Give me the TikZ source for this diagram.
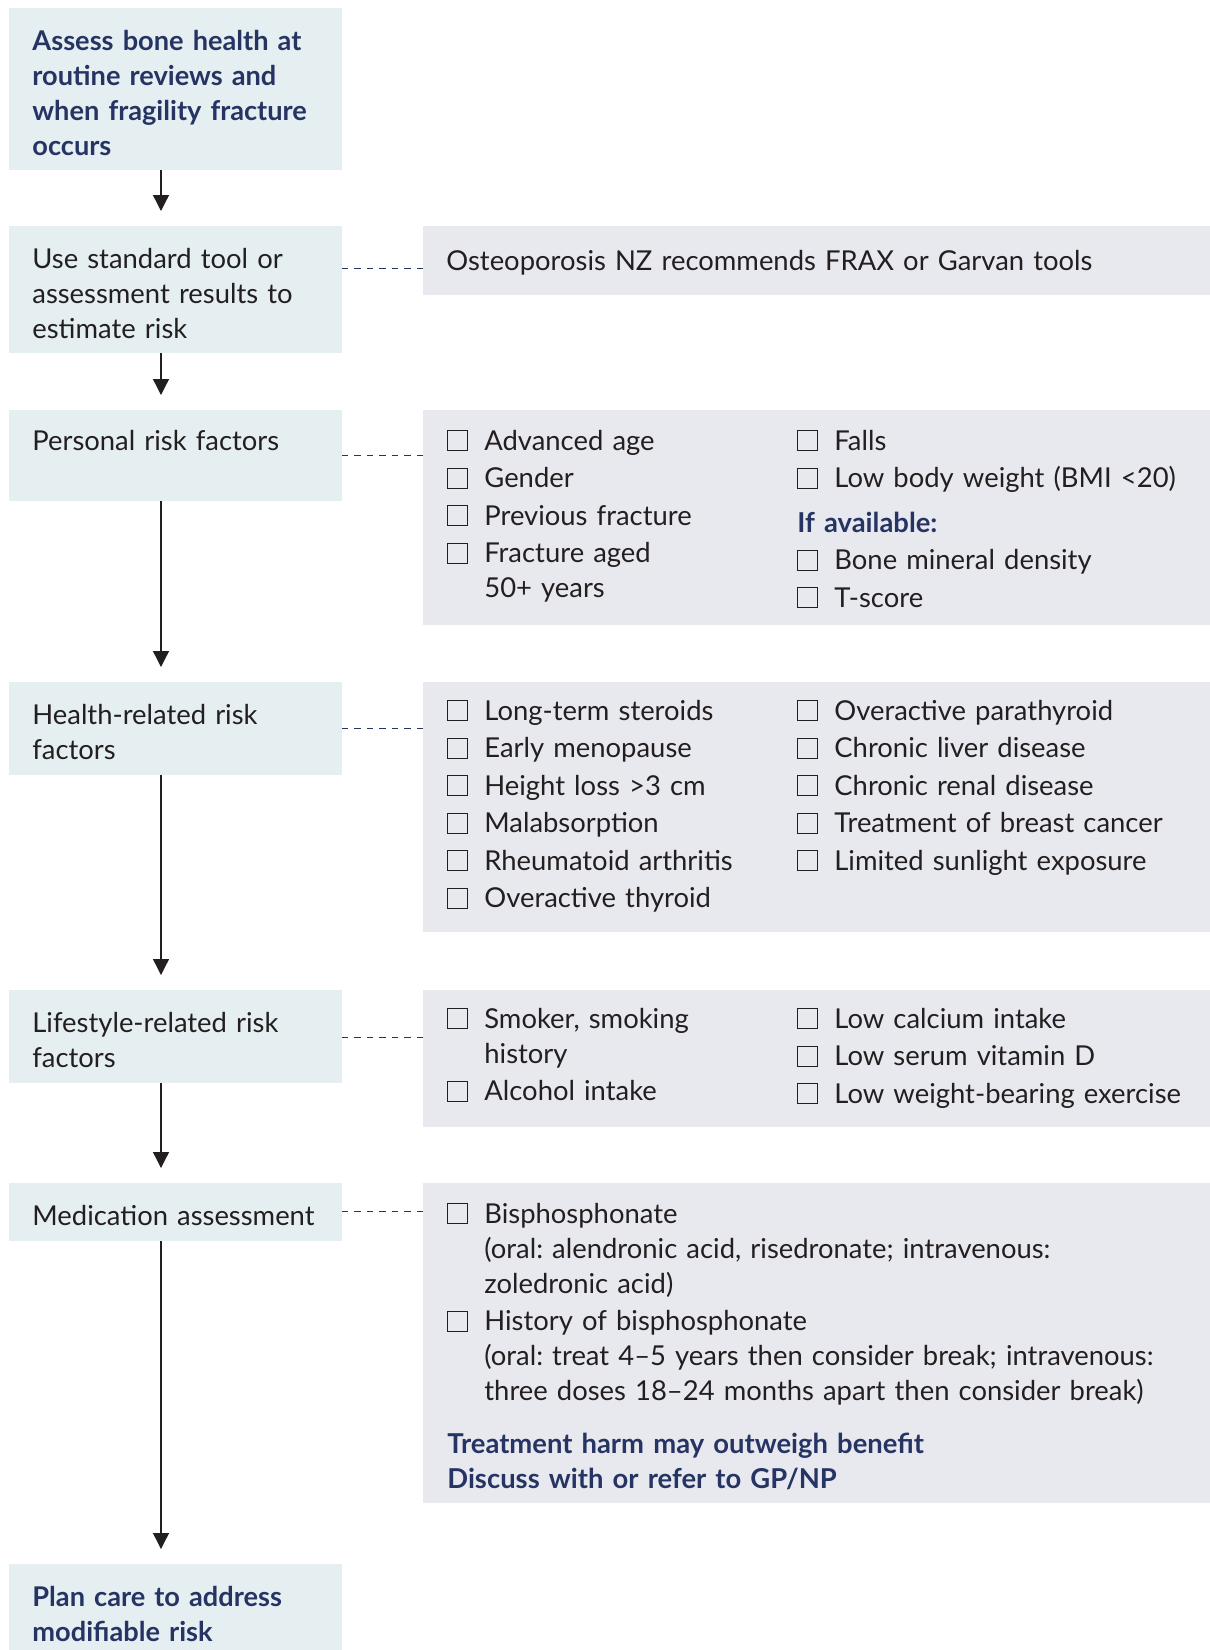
\documentclass[tikz,border=0pt]{standalone}
\usepackage{fontspec}
\setmainfont{Lato}
\usetikzlibrary{arrows.meta,calc}
\definecolor{navy}{RGB}{38,52,100}
\definecolor{inkblack}{RGB}{35,31,32}
\definecolor{stepfill}{RGB}{229,239,242}
\definecolor{notefill}{RGB}{232,233,239}
\frenchspacing
\newcommand\tickbox{{\setlength\fboxsep{0pt}\setlength\fboxrule{0.5pt}\fbox{\rule{0pt}{9.5pt}\hspace{9.5pt}}}}
\newcommand\nextline{\hfil\break}
\newcommand\riskitem[1]{\hangindent=18.5pt\hangafter=1\noindent\tickbox\hspace{8pt}#1\par}
\tikzset{
  flowbox/.style={anchor=north west,fill=stepfill,minimum width=166.5pt,inner sep=0pt,outer sep=0pt},
  notebox/.style={anchor=north west,fill=notefill,minimum width=393.5pt,inner sep=0pt,outer sep=0pt},
  steptext/.style={anchor=base west,inner sep=0pt,text width=152pt,align=left,text=inkblack,font=\fontsize{13.7}{17.5}\selectfont},
  keytext/.style={steptext,text=navy,font=\fontsize{13.6}{17.5}\selectfont\bfseries},
  listtext/.style={anchor=base west,inner sep=0pt,text width=#1,align=left,text=inkblack,
    font=\fontsize{13.7}{17.5}\selectfont,execute at begin node={\setlength\parskip{1.25pt}}},
  listtext/.default=170pt,
  flowarrow/.style={draw=inkblack,line width=0.65pt,-{Triangle[width=8pt,length=8pt]},shorten >=7.5pt},
  linkline/.style={draw=navy,line width=0.5pt,dash pattern=on 3.2pt off 3.01pt},
}
\begin{document}
\begin{tikzpicture}[x=0.5pt,y=-0.5pt]
\useasboundingbox (0,0) rectangle (1210,1650);

% steps on the left
\node[flowbox,minimum height=81pt] (assess) at (9,8) {};
\node[flowbox,minimum height=63.5pt] (tool) at (9,226) {};
\node[flowbox,minimum height=45.5pt] (personal) at (9,410) {};
\node[flowbox,minimum height=46.5pt] (health) at (9,682) {};
\node[flowbox,minimum height=46.5pt] (lifestyle) at (9,990) {};
\node[flowbox,minimum height=29pt] (medication) at (9,1183) {};
\node[flowbox,minimum height=43pt] (plan) at (9,1564) {};

\node[keytext] (assesstext) at (32,50) {Assess bone health at\\routine reviews and\\when fragility fracture\\occurs};
\node[steptext] (tooltext) at (32,268) {Use standard tool or\\assessment results to\\estimate risk};
\node[steptext] (personaltext) at (32,450) {Personal risk factors};
\node[steptext] (healthtext) at (32,724) {Health-related risk\\factors};
\node[steptext] (lifestyletext) at (32,1032) {Lifestyle-related risk\\factors};
\node[steptext,text width=165pt] (medicationtext) at (32,1225) {Medication assessment};
\node[keytext] (plantext) at (32,1606) {Plan care to address\\modifiable risk};

% notes on the right
\node[notebox,minimum height=34.5pt] (frax) at (423,226) {};
\node[notebox,minimum height=107.5pt] (personallist) at (423,410) {};
\node[notebox,minimum height=125pt] (healthlist) at (423,682) {};
\node[notebox,minimum height=68.5pt] (lifestylelist) at (423,990) {};
\node[notebox,minimum height=160pt] (medicationlist) at (423,1183) {};

\node[steptext,text width=340pt] (fraxtext) at (446,270) {Osteoporosis NZ recommends FRAX or Garvan tools};

\node[listtext] (personalA) at (447,450) {%
  \riskitem{Advanced age}
  \riskitem{Gender}
  \riskitem{Previous fracture}
  \riskitem{Fracture aged\nextline 50+ years}};
\node[listtext=200pt] (personalB) at (797,450) {%
  \riskitem{Falls}
  \riskitem{Low body weight (BMI <20)}
  \vspace{3.5pt}\noindent{\color{navy}\bfseries If available:}\par
  \riskitem{Bone mineral density}
  \riskitem{T-score}};

\node[listtext] (healthA) at (447,720) {%
  \riskitem{Long-term steroids}
  \riskitem{Early menopause}
  \riskitem{Height loss >3 cm}
  \riskitem{Malabsorption}
  \riskitem{Rheumatoid arthritis}
  \riskitem{Overactive thyroid}};
\node[listtext=200pt] (healthB) at (797,720) {%
  \riskitem{Overactive parathyroid}
  \riskitem{Chronic liver disease}
  \riskitem{Chronic renal disease}
  \riskitem{Treatment of breast cancer}
  \riskitem{Limited sunlight exposure}};

\node[listtext] (lifestyleA) at (447,1028) {%
  \riskitem{Smoker, smoking\nextline history}
  \riskitem{Alcohol intake}};
\node[listtext=200pt] (lifestyleB) at (797,1028) {%
  \riskitem{Low calcium intake}
  \riskitem{Low serum vitamin D}
  \riskitem{Low weight-bearing exercise}};

\node[listtext=370pt] (medicationA) at (447,1223) {%
  \riskitem{Bisphosphonate\nextline (oral: alendronic acid, risedronate; intravenous:\nextline zoledronic acid)}
  \riskitem{History of bisphosphonate\nextline (oral: treat 4--5 years then consider break; intravenous:\nextline three doses 18--24 months apart then consider break)}
  \vspace{7.5pt}\noindent{\color{navy}\bfseries Treatment harm may outweigh benefit\nextline Discuss with or refer to GP/NP}\par};

% arrows down the spine
\coordinate (spine) at (161,0);
\draw[flowarrow] (assess.south -| spine) -- (tool.north -| spine);
\draw[flowarrow] (tool.south -| spine) -- (personal.north -| spine);
\draw[flowarrow] (personal.south -| spine) -- (health.north -| spine);
\draw[flowarrow] (health.south -| spine) -- (lifestyle.north -| spine);
\draw[flowarrow] (lifestyle.south -| spine) -- (medication.north -| spine);
\draw[flowarrow] (medication.south -| spine) -- (plan.north -| spine);

% dashed links
\draw[linkline] ($(tool.north east)+(0,42)$) -- ($(frax.north west)+(0,42)$);
\draw[linkline] ($(personal.north east)+(0,45)$) -- ($(personallist.north west)+(0,45)$);
\draw[linkline] ($(health.north east)+(0,46)$) -- ($(healthlist.north west)+(0,46)$);
\draw[linkline] ($(lifestyle.north east)+(0,47)$) -- ($(lifestylelist.north west)+(0,47)$);
\draw[linkline] ($(medication.north east)+(0,28)$) -- ($(medicationlist.north west)+(0,28)$);
\end{tikzpicture}
\end{document}
